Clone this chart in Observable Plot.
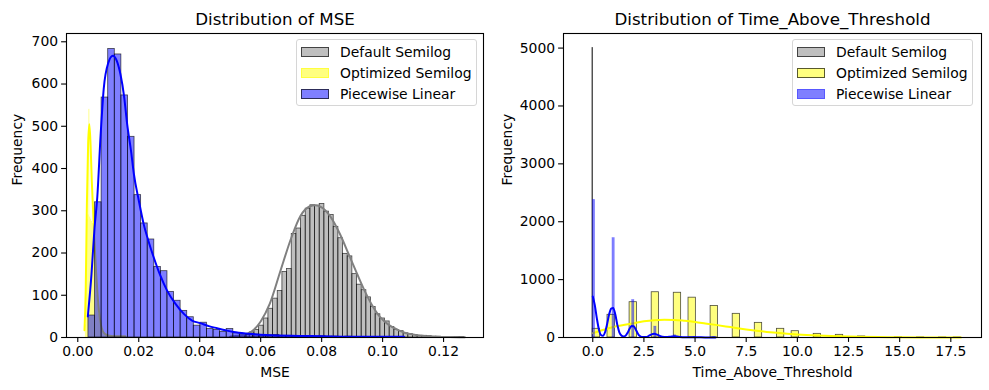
<!DOCTYPE html>
<html><head><meta charset="utf-8">
<script src="https://cdn.jsdelivr.net/npm/d3@7"></script>
<script src="https://cdn.jsdelivr.net/npm/@observablehq/plot@0.6"></script>
<style>
body{margin:0;background:#fff;}
#wrap{position:relative;width:989px;height:390px;font-family:"DejaVu Sans",sans-serif;color:#000;overflow:hidden;}
.panel{position:absolute;top:0;}
.legend{position:absolute;top:39px;width:181px;height:67px;box-sizing:border-box;border:1px solid #d6d6d6;border-radius:3px;background:rgba(255,255,255,0.8);}
.patch{position:absolute;width:28px;height:10px;box-sizing:border-box;}
.ltxt{position:absolute;font-size:13.9px;line-height:16px;white-space:nowrap;}
</style></head><body><div id="wrap"></div><script>
// ---------- labels ----------
const seriesNames = ["Default Semilog", "Optimized Semilog", "Piecewise Linear"];
const mseTicks = [0, 0.02, 0.04, 0.06, 0.08, 0.10, 0.12];
const mseFreqTicks = [0, 100, 200, 300, 400, 500, 600, 700];
const tatTicks = [0, 2.5, 5, 7.5, 10, 12.5, 15, 17.5];
const tatFreqTicks = [0, 1000, 2000, 3000, 4000, 5000];

// ---------- MSE histograms (bin start, bin width, counts) ----------
const mseGrayStart = 0.0503, mseGrayWidth = 0.00153;
const mseGrayCounts = [2,4,5,8,12,18,28,45,68,92,110,155,162,245,258,288,305,313,312,316,298,290,262,235,198,192,150,125,112,95,72,55,45,38,25,18,15,10,8,6,4,4,3,2,2,1,1,1,1,1];
const mseYellowStart = 0.0025, mseYellowWidth = 0.00029;
const mseYellowCounts = [30,150,280,290,540,285,280,275,270,260,240,165,140,100,80,55,40,30,22,16,13,9,8,6,5,4,4,3,3,2,2,2,1,2,1,1,1,0,1,1,0,1,0,0,1];
const mseBlueStart = 0.0035, mseBlueWidth = 0.00216;
const mseBlueCounts = [52,320,568,683,670,573,475,337,270,232,167,157,108,87,63,48,28,35,20,18,13,20,10,8,6,7,5,5,6,4,4,3,3,2,2,3,2,2,1,2,1,1,1,1,0,1,1,1];

// ---------- MSE KDE curves ----------
const mseGrayKdeX = [0.0500,0.0540,0.0570,0.0600,0.0630,0.0665,0.0700,0.0730,0.0760,0.0780,0.0800,0.0830,0.0860,0.0890,0.0916,0.0940,0.0965,0.0992,0.1020,0.1050,0.1070,0.1100,0.1130,0.1170,0.1220,0.1270];
const mseGrayKdeY = [2,6,14,38,80,158,235,287,310,313,308,285,245,195,151,112,77,48,30,18,12,7,4,2,1,0.5];
const mseYellowKdeX = [0.0022,0.0026,0.0030,0.0034,0.0038,0.0042,0.0046,0.0050,0.0055,0.0060,0.0065,0.0070,0.0076,0.0082,0.0090,0.0100,0.0120,0.0156];
const mseYellowKdeY = [17,110,320,460,505,455,370,305,225,155,100,60,30,15,8,5,3,3];
const mseBlueKdeX = [0.0033,0.0045,0.0055,0.0064,0.0075,0.0085,0.0100,0.0115,0.0128,0.0140,0.0152,0.0162,0.0175,0.0184,0.0200,0.0216,0.0232,0.0249,0.0270,0.0293,0.0320,0.0348,0.0375,0.0402,0.0430,0.0457,0.0485,0.0511,0.0560,0.0620,0.0700,0.0800,0.0900,0.1000,0.1070];
const mseBlueKdeY = [50,150,260,332,480,588,650,667,655,623,570,505,440,387,325,269,228,190,148,111,80,56,40,34,27,22,17,13,9,6,4,3,2,2,1.5];

// ---------- Time_Above_Threshold (discrete values, counts) ----------
const tatGrayValues = [0];
const tatGrayCounts = [5000];
const tatYellowValues = [0,1,2,3,4,5,6,7,8,9,10,11,12,13,14,15,16,17,18];
const tatYellowCounts = [150,392,610,782,773,688,545,409,253,150,109,63,46,18,9,4,2,1,1];
const tatYellowBinWidth = 0.36, tatYellowBins = 50;
const tatBlueValues = [0,1,2,3,4,5,6];
const tatBlueCounts = [2380,1720,650,190,40,12,8];
const tatBlueBinWidth = 0.12, tatBlueBins = 50;

const tatYellowKdeX = [0,0.5,1,1.5,2,2.5,3,3.5,4,4.5,5,5.5,6,6.5,7,7.5,8,8.5,9,9.5,10,11,12,13,14,15,16,17,18];
const tatYellowKdeY = [75,130,180,215,247,280,300,306,303,288,268,243,218,192,165,140,117,97,80,65,52,33,20,12,7,4,2,1,1];
const tatBlueKdeX = [0,0.1,0.2,0.3,0.4,0.5,0.6,0.7,0.8,0.9,1.0,1.1,1.2,1.3,1.4,1.5,1.6,1.7,1.8,1.9,2.0,2.1,2.2,2.3,2.4,2.6,2.8,3.0,3.2,3.4,3.6,3.8,4.0,4.2,4.5,5.0,5.5,6.0];
const tatBlueKdeY = [710,560,330,140,45,30,90,230,400,500,510,400,220,90,35,18,30,80,150,200,195,140,70,25,10,8,40,65,40,12,8,14,20,12,4,5,2,1];

// ---------- helpers ----------
const bins = (start, w, counts) => counts.map((c, i) => ({x1: start + i * w, x2: start + (i + 1) * w, y: c}));
const discrete = (vals, counts, w, nb) => vals.map((v, i) => {
  const k = Math.min(Math.floor(v / w + 1e-9), nb - 1);
  return {x1: k * w, x2: (k + 1) * w, y: counts[i]};
});
const pts = (xs, ys) => xs.map((x, i) => ({x, y: ys[i]}));

const FS = 13.9;
const commonStyle = {fontFamily: "DejaVu Sans", fontSize: FS + "px", color: "black", background: "transparent", overflow: "visible"};
const edge = {stroke: "black", strokeOpacity: 0.7, strokeWidth: 0.8};

function axesMarks(xt, xfmt, yt, title, xlabel, leftOff) {
  return [
    Plot.frame({stroke: "black", strokeWidth: 1.1}),
    Plot.axisX({ticks: xt, tickFormat: xfmt, tickSize: 4.9, tickPadding: 3.5, strokeWidth: 1.1, label: null, fontSize: FS}),
    Plot.axisY({ticks: yt, tickFormat: d => String(d), tickSize: 4.9, tickPadding: 3.5, strokeWidth: 1.1, label: null, fontSize: FS}),
    Plot.text([title], {frameAnchor: "top", text: d => d, dy: -14, fontSize: 16.7, lineAnchor: "middle"}),
    Plot.text([xlabel], {frameAnchor: "bottom", text: d => d, dy: 35, fontSize: FS, lineAnchor: "middle"}),
    Plot.text(["Frequency"], {frameAnchor: "left", text: d => d, dx: leftOff, rotate: -90, fontSize: FS, lineAnchor: "middle"})
  ];
}

const left = Plot.plot({
  width: 490, height: 390, marginLeft: 66, marginRight: 7, marginTop: 33, marginBottom: 53,
  style: commonStyle,
  x: {domain: [-0.0037, 0.1331], axis: null},
  y: {domain: [0, 719.6], axis: null},
  marks: [
    Plot.rectY(bins(mseGrayStart, mseGrayWidth, mseGrayCounts), {x1: "x1", x2: "x2", y: "y", fill: "gray", fillOpacity: 0.5, ...edge}),
    Plot.line(pts(mseGrayKdeX, mseGrayKdeY), {x: "x", y: "y", stroke: "gray", strokeWidth: 2, curve: "monotone-x"}),
    Plot.rectY(bins(mseYellowStart, mseYellowWidth, mseYellowCounts), {x1: "x1", x2: "x2", y: "y", fill: "yellow", fillOpacity: 0.5}),
    Plot.line(pts(mseYellowKdeX, mseYellowKdeY), {x: "x", y: "y", stroke: "yellow", strokeWidth: 2, curve: "monotone-x"}),
    Plot.rectY(bins(mseBlueStart, mseBlueWidth, mseBlueCounts), {x1: "x1", x2: "x2", y: "y", fill: "blue", fillOpacity: 0.5, ...edge}),
    Plot.line(pts(mseBlueKdeX, mseBlueKdeY), {x: "x", y: "y", stroke: "blue", strokeWidth: 2, curve: "monotone-x"}),
    ...axesMarks(mseTicks, d3.format(".2f"), mseFreqTicks, "Distribution of MSE", "MSE", -49.3)
  ]
});

const right = Plot.plot({
  width: 499, height: 390, marginLeft: 73, marginRight: 8, marginTop: 33, marginBottom: 53,
  style: commonStyle,
  x: {domain: [-1.43, 19.0], axis: null},
  y: {domain: [0, 5252], axis: null},
  marks: [
    Plot.rectY(tatGrayValues.map((v, i) => ({x1: v - 0.012, x2: v + 0.012, y: tatGrayCounts[i]})), {x1: "x1", x2: "x2", y: "y", fill: "gray", fillOpacity: 0.5, stroke: "#444", strokeWidth: 0.9}),
    Plot.rectY(discrete(tatYellowValues, tatYellowCounts, tatYellowBinWidth, tatYellowBins), {x1: "x1", x2: "x2", y: "y", fill: "yellow", fillOpacity: 0.5, ...edge}),
    Plot.line(pts(tatYellowKdeX, tatYellowKdeY), {x: "x", y: "y", stroke: "yellow", strokeWidth: 2, curve: "monotone-x"}),
    Plot.rectY(discrete(tatBlueValues, tatBlueCounts, tatBlueBinWidth, tatBlueBins), {x1: "x1", x2: "x2", y: "y", fill: "blue", fillOpacity: 0.5, stroke: "blue", strokeOpacity: 0.25, strokeWidth: 0.5}),
    Plot.line(pts(tatBlueKdeX, tatBlueKdeY), {x: "x", y: "y", stroke: "blue", strokeWidth: 2, curve: "monotone-x"}),
    ...axesMarks(tatTicks, d3.format(".1f"), tatFreqTicks, "Distribution of Time_Above_Threshold", "Time_Above_Threshold", -56.3)
  ]
});

const wrap = document.getElementById("wrap");
left.classList.add("panel"); left.style.left = "0px"; left.style.position = "absolute";
right.classList.add("panel"); right.style.left = "490px"; right.style.position = "absolute";
wrap.appendChild(left); wrap.appendChild(right);

function legend(x, patches) {
  const box = document.createElement("div");
  box.className = "legend"; box.style.left = x + "px";
  seriesNames.forEach((name, i) => {
    const p = document.createElement("div");
    p.className = "patch";
    p.style.left = "4px"; p.style.top = (7.3 + 21 * i) + "px";
    p.style.background = patches[i].fill; p.style.border = patches[i].border;
    const t = document.createElement("div");
    t.className = "ltxt"; t.textContent = name;
    t.style.left = "43px"; t.style.top = (4.3 + 21 * i) + "px";
    box.appendChild(p); box.appendChild(t);
  });
  wrap.appendChild(box);
}
const dark = "1px solid rgba(0,0,0,0.65)";
legend(296, [
  {fill: "rgba(128,128,128,0.5)", border: dark},
  {fill: "rgba(255,255,0,0.5)", border: "1px solid rgba(255,255,0,0.5)"},
  {fill: "rgba(0,0,255,0.5)", border: dark}
]);
legend(792, [
  {fill: "rgba(128,128,128,0.5)", border: dark},
  {fill: "rgba(255,255,0,0.5)", border: dark},
  {fill: "rgba(0,0,255,0.5)", border: "1px solid rgba(0,0,255,0.3)"}
]);
</script></body></html>
